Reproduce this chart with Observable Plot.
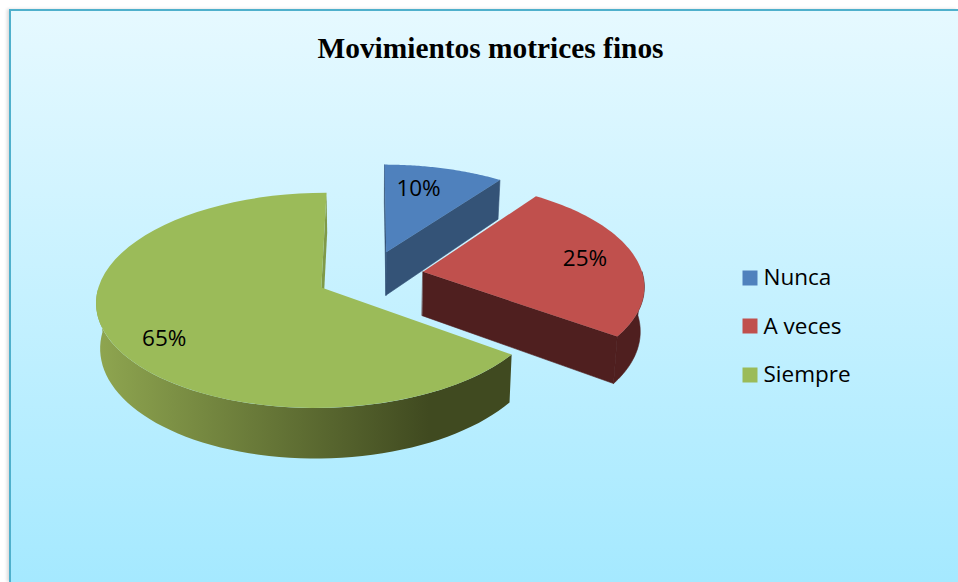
<!DOCTYPE html>
<html>
<head>
<meta charset="utf-8">
<script src="https://cdn.jsdelivr.net/npm/d3@7"></script>
<script src="https://cdn.jsdelivr.net/npm/@observablehq/plot@0.6"></script>
<style>
  html, body { margin: 0; padding: 0; background: #fff; overflow: hidden; }
  #panel {
    position: absolute; left: 9px; top: 9px; width: 949px; height: 573px;
    box-sizing: border-box;
    border-left: 2px solid #4fb0cc; border-top: 2px solid #4fb0cc;
    background: linear-gradient(to bottom, #e6f9ff 0%, #a5e9ff 100%);
    box-shadow: -2px 0 3px rgba(0,0,0,.15);
  }
  #chart { position: absolute; left: 0; top: 0; }
  #chart svg { background: transparent; display: block; }
</style>
</head>
<body>
<div id="panel"></div>
<div id="chart"></div>
<script>
const chartTitle = "Movimientos motrices finos";
const categories = ["Nunca", "A veces", "Siempre"];
const values = [10, 25, 65];

const faceColors = ["#4f81bd", "#c0504d", "#9bbb59"];
const wallColors = ["#345377", "#4f1f1f", "url(#greenWall)"];
const drawOrder = [2, 0, 1];

// view of the exploded pie: tilted plane with perspective
const view = {cx: 369.5, cy: 275.3, a: 220, b: 103.3, k: 0.118, depth: 44, shrink: 0.985};
const explode = 0.245;
// label spot in each slice: share of the slice's sweep, share of the radius
const labelSpots = [[0.375, 0.726], [0.49, 0.766], [0.465, 0.8]];

const tilt = d3.geoTransform({
  point(X, Y, z) {
    const w = 1 + view.k * Y;
    this.stream.point(
      view.cx + (z ? view.shrink : 1) * view.a * X / w,
      view.cy - view.b * Y / w + (z ? view.depth / w : 0)
    );
  }
});

const total = d3.sum(values);
const ends = d3.cumsum(values).map((v) => (v / total) * 2 * Math.PI);
const starts = ends.map((e, i) => (i ? ends[i - 1] : 0));
const centers = categories.map((_, i) => {
  const mid = (starts[i] + ends[i]) / 2;
  return [explode * Math.sin(mid), explode * Math.cos(mid)];
});
const polar = (i, t, r, z) => [centers[i][0] + r * Math.sin(t), centers[i][1] + r * Math.cos(t), z];
const arcOf = (i, t0, t1, z) => d3.range(61).map((s) => polar(i, t0 + ((t1 - t0) * s) / 60, 1, z));
const poly = (ring, properties) => ({
  type: "Feature", properties,
  geometry: {type: "Polygon", coordinates: [[...ring, ring[0]]]}
});

const face = (i) => poly([polar(i, 0, 0, 0), ...arcOf(i, starts[i], ends[i], 0)], {category: categories[i]});
const cutWall = (i, t) => poly(
  [polar(i, 0, 0, 0), polar(i, t, 1, 0), polar(i, t, 1, 1), polar(i, 0, 0, 1)], {}
);
const rimWall = (i, t0, t1) => poly([...arcOf(i, t0, t1, 0), ...arcOf(i, t1, t0, 1)], {});

// only the walls the camera can see
const wallsOf = [
  [cutWall(0, starts[0]), cutWall(0, ends[0])],
  [cutWall(1, ends[1]), rimWall(1, Math.PI / 2, ends[1])],
  [rimWall(2, starts[2], 1.5 * Math.PI)]
];
const greenStartWall = cutWall(2, 0);

const labels = categories.map((c, i) => {
  const [share, r] = labelSpots[i];
  const p = polar(i, starts[i] + share * (ends[i] - starts[i]), r, 0);
  return {x: p[0], y: p[1], text: `${values[i]}%`};
});

const defs = () => {
  const d = d3.create("svg:defs");
  const g = d.append("linearGradient").attr("id", "greenWall");
  [[0, "#8fa650"], [0.8, "#404a20"], [1, "#404a20"]].forEach(([o, c]) =>
    g.append("stop").attr("offset", o).attr("stop-color", c));
  return d.node();
};

const uiFont = "'Open Sans', sans-serif";
const legendRows = [277.5, 325.5, 374.5];
const legendTextRows = [277, 326, 374];

const plot = Plot.plot({
  width: 958, height: 582, margin: 0,
  projection: tilt,
  color: {domain: categories, range: faceColors},
  marks: [
    defs,
    drawOrder.map((i) => [
      i === 2 ? Plot.geo([greenStartWall], {fill: "#7f9a48"}) : null,
      Plot.geo(wallsOf[i], {fill: wallColors[i], stroke: i === 2 ? "none" : wallColors[i], strokeWidth: 0.6}),
      Plot.geo([face(i)], {fill: (d) => d.properties.category})
    ]),
    Plot.text(labels, {x: "x", y: "y", text: "text", fontFamily: uiFont, fontSize: 22.5, fill: "#000"}),
    Plot.text([chartTitle], {
      text: (d) => d, frameAnchor: "top-left", dx: 490, dy: 48, textAnchor: "middle",
      lineAnchor: "middle", fontFamily: "'Liberation Serif', serif", fontWeight: "bold", fontSize: 29.4, fill: "#000"
    }),
    categories.map((c, i) => [
      Plot.dot([c], {frameAnchor: "top-left", dx: 749.5, dy: legendRows[i], symbol: "square", r: 8.46, fill: (d) => d}),
      Plot.text([c], {
        text: (d) => d, frameAnchor: "top-left", dx: 763, dy: legendTextRows[i], textAnchor: "start",
        lineAnchor: "middle", fontFamily: uiFont, fontSize: 22.5, fill: "#000"
      })
    ])
  ]
});
document.getElementById("chart").append(plot);
</script>
</body>
</html>
